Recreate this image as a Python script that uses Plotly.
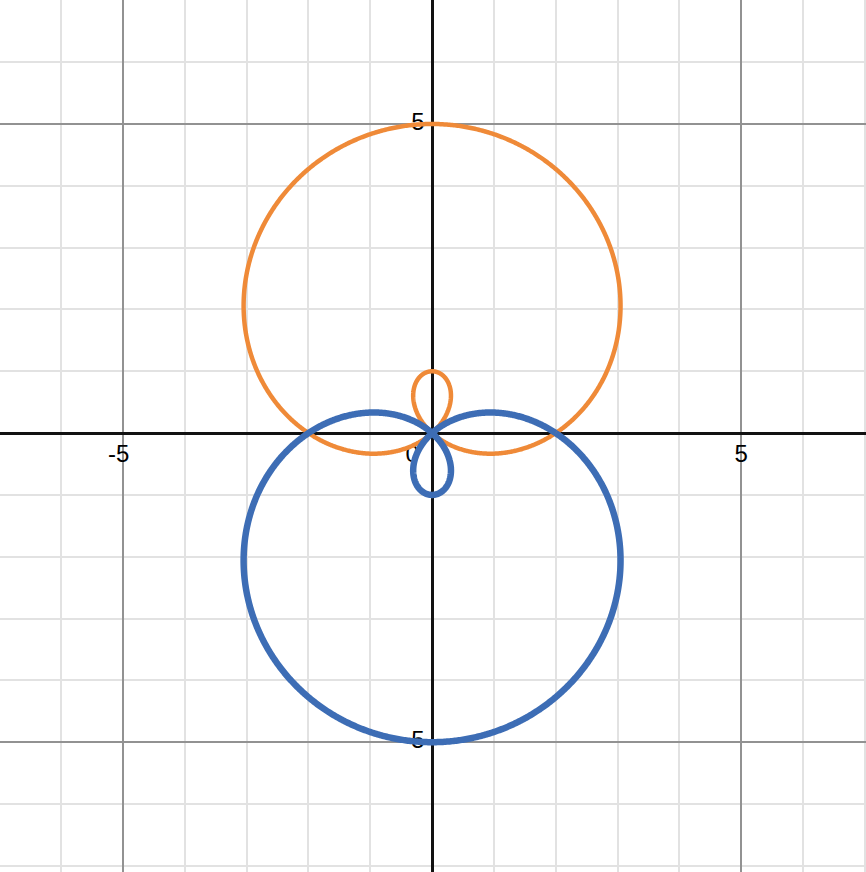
import numpy as np
import plotly.graph_objects as go

# Limaçon parameters: r = a + b*sin(theta) (orange), r = a - b*sin(theta) (blue)
a_orange, b_orange = 2, 3
a_blue, b_blue = 2, -3
theta = np.linspace(0, 2 * np.pi, 1441)

x_tick_vals = [-5, 5]
x_tick_text = ["-5", "5"]
y_tick_vals = [5, -5]
y_tick_text = ["5", "-5"]

r_o = a_orange + b_orange * np.sin(theta)
r_b = a_blue + b_blue * np.sin(theta)

font = dict(family="Liberation Sans, Arial, sans-serif", size=24, color="black")

fig = go.Figure()
# tick labels drawn beneath the curves (as in the reference)
fig.add_trace(go.Scatter(x=[v - 0.07 if v < 0 else v for v in x_tick_vals] + [-0.32],
                         y=[-0.37] * len(x_tick_vals) + [-0.37],
                         text=x_tick_text + ["0"], mode="text", textposition="middle center",
                         textfont=font, hoverinfo="skip"))
fig.add_trace(go.Scatter(x=[-0.12] * len(y_tick_vals), y=y_tick_vals,
                         text=y_tick_text, mode="text", textposition="middle left",
                         textfont=font, hoverinfo="skip"))
fig.add_trace(go.Scatter(x=r_o * np.cos(theta), y=r_o * np.sin(theta), mode="lines",
                         line=dict(color="#ef8a38", width=4.5, simplify=False), hoverinfo="skip"))
fig.add_trace(go.Scatter(x=r_b * np.cos(theta), y=r_b * np.sin(theta), mode="lines",
                         line=dict(color="#3d6db5", width=6.5, simplify=False), hoverinfo="skip"))

axis_common = dict(
    showticklabels=False, ticks="", dtick=5, tick0=0,
    showgrid=True, gridcolor="#929292", gridwidth=2,
    zeroline=True, zerolinecolor="#111111", zerolinewidth=2.5,
    minor=dict(dtick=1, tick0=0, showgrid=True, gridcolor="#e2e2e2", gridwidth=1.5),
    showline=False,
)

fig.update_layout(
    width=866, height=872,
    margin=dict(l=0, r=0, t=0, b=0),
    plot_bgcolor="white", paper_bgcolor="white",
    showlegend=False,
    xaxis=dict(range=[-6.99, 7.02], **axis_common),
    yaxis=dict(range=[-7.10, 7.006], **axis_common),
)

fig.write_html("out.html", config={"displayModeBar": False},
               post_script="document.body.style.margin='0';document.body.style.padding='0';")
